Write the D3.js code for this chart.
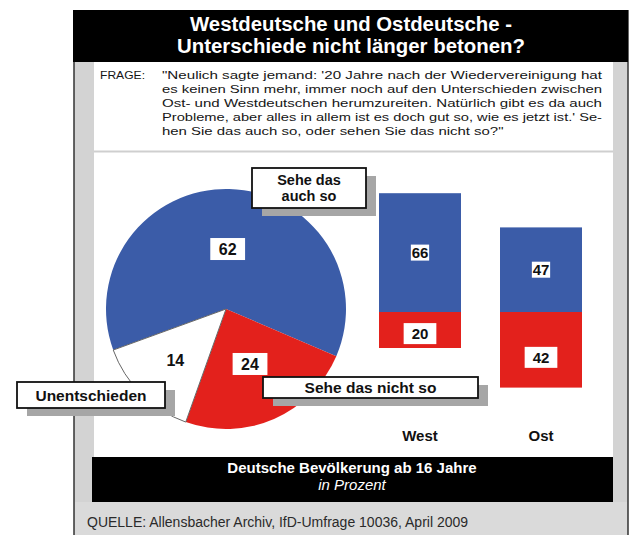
<!DOCTYPE html>
<html><head><meta charset="utf-8">
<script src="https://cdn.jsdelivr.net/npm/d3@7"></script>
<style>
body{margin:0;background:#fff}
svg{display:block}
text{font-family:"Liberation Sans",Arial,Helvetica,sans-serif}
</style>
</head><body>
<svg id="c" width="634" height="535"></svg>
<script>
// ---------- data ----------
const titleLines = ["Westdeutsche und Ostdeutsche -", "Unterschiede nicht länger betonen?"];
const questionLabel = "FRAGE:";
const questionLines = [
  "\"Neulich sagte jemand: '20 Jahre nach der Wiedervereinigung hat",
  "es keinen Sinn mehr, immer noch auf den Unterschieden zwischen",
  "Ost- und Westdeutschen herumzureiten. Natürlich gibt es da auch",
  "Probleme, aber alles in allem ist es doch gut so, wie es jetzt ist.' Se-",
  "hen Sie das auch so, oder sehen Sie das nicht so?\""
];
const pieCategories = ["Sehe das auch so", "Sehe das nicht so", "Unentschieden"];
const pieValues = [62, 24, 14];
const barCategories = ["West", "Ost"];
const auchSoValues = [66, 47];
const nichtSoValues = [20, 42];
const footerLines = ["Deutsche Bevölkerung ab 16 Jahre", "in Prozent"];
const sourceText = "QUELLE: Allensbacher Archiv, IfD-Umfrage 10036, April 2009";

// ---------- styles ----------
const BLUE = "#3b5ca8", RED = "#e3211c", GREY = "#d3d3d3";
const pieColors = [BLUE, RED, "#ffffff"];

const svg = d3.select("#c");

// ---------- frame ----------
svg.append("rect").attr("x", 74).attr("y", 40).attr("width", 554).attr("height", 495).attr("fill", GREY);
svg.append("line").attr("x1", 74).attr("x2", 74).attr("y1", 10).attr("y2", 535).attr("stroke", "#333").attr("stroke-width", 1.5);
svg.append("line").attr("x1", 628).attr("x2", 628).attr("y1", 10).attr("y2", 535).attr("stroke", "#333").attr("stroke-width", 1.5);
svg.append("rect").attr("x", 94).attr("y", 62).attr("width", 519).attr("height", 395).attr("fill", "#fff");
svg.append("rect").attr("x", 94).attr("y", 150.5).attr("width", 519).attr("height", 2).attr("fill", "#cfcfcf");
svg.append("rect").attr("x", 75).attr("y", 502).attr("width", 552).attr("height", 33).attr("fill", "#dadada");

// title
svg.append("rect").attr("x", 73).attr("y", 10).attr("width", 555).attr("height", 52).attr("fill", "#000");
const titleW = [322, 348];
svg.selectAll("text.title").data(titleLines).join("text").attr("class", "title")
  .attr("x", 351).attr("y", (d, i) => 31 + i * 21.5)
  .attr("text-anchor", "middle").attr("fill", "#fff")
  .attr("font-size", 19.5).attr("font-weight", "bold")
  .attr("textLength", (d, i) => titleW[i]).attr("lengthAdjust", "spacingAndGlyphs")
  .text(d => d);

// question
const qFs = 11.5, qTop = 79, qLh = 13.9;
svg.append("text").attr("x", 100).attr("y", qTop).attr("font-size", qFs).attr("fill", "#161616")
  .attr("textLength", 45).attr("lengthAdjust", "spacingAndGlyphs").text(questionLabel);
const qSel = svg.selectAll("text.q").data(questionLines).join("text").attr("class", "q")
  .attr("x", 162).attr("y", (d, i) => qTop + i * qLh)
  .attr("font-size", qFs).attr("fill", "#161616").text(d => d);
let factors = [];
qSel.each(function (d, i) {
  const w = this.getComputedTextLength();
  if (i < questionLines.length - 1) {
    factors.push(440 / w);
    d3.select(this).attr("textLength", 440).attr("lengthAdjust", "spacingAndGlyphs");
  }
});
const avgF = d3.mean(factors);
qSel.filter((d, i) => i === questionLines.length - 1).each(function () {
  const w = this.getComputedTextLength();
  d3.select(this).attr("textLength", w * avgF).attr("lengthAdjust", "spacingAndGlyphs");
});

// ---------- value label helper ----------
function valueLabel(g, x, y, txt, fs, padX, h, box) {
  const t = g.append("text").attr("x", x).attr("y", y + fs * 0.716 / 2)
    .attr("text-anchor", "middle").attr("font-size", fs).attr("font-weight", "bold")
    .attr("fill", "#111").text(txt);
  const tw = t.node().getComputedTextLength();
  if (box) {
    g.insert("rect", () => t.node())
      .attr("x", x - tw / 2 - padX).attr("y", y - h / 2)
      .attr("width", tw + 2 * padX).attr("height", h).attr("fill", "#fff");
  }
}

// ---------- pie ----------
const cx = 226, cy = 309, R = 120;
const pie = d3.pie().sort(null)
  .startAngle(-110 * Math.PI / 180).endAngle(250 * Math.PI / 180);
const arcs = pie(pieValues);
const arc = d3.arc().innerRadius(0).outerRadius(R);
const gp = svg.append("g").attr("transform", `translate(${cx},${cy})`);
gp.selectAll("path").data(arcs).join("path")
  .attr("d", arc).attr("fill", (d, i) => pieColors[i])
  .attr("stroke", (d, i) => i === 2 ? "#666" : "none").attr("stroke-width", 1);
const gpl = gp.append("g");
arcs.forEach((a, i) => {
  const lr = R * (i === 2 ? 0.6 : 0.5);
  const [lx, ly] = d3.arc().innerRadius(lr).outerRadius(lr).centroid(a);
  valueLabel(gpl, lx, ly, String(pieValues[i]), 16, 8.5, 22, i !== 2);
});

// ---------- bars ----------
const x = d3.scaleBand().domain(barCategories).range([379, 582]).paddingInner(0.3223).paddingOuter(0);
const y = d3.scaleLinear().domain([-100, 100]).range([492, 132]);
const gb = svg.append("g");
gb.selectAll("rect.a").data(barCategories).join("rect").attr("class", "a")
  .attr("x", d => x(d)).attr("width", x.bandwidth())
  .attr("y", (d, i) => y(auchSoValues[i])).attr("height", (d, i) => y(0) - y(auchSoValues[i]))
  .attr("fill", BLUE);
gb.selectAll("rect.n").data(barCategories).join("rect").attr("class", "n")
  .attr("x", d => x(d)).attr("width", x.bandwidth())
  .attr("y", y(0)).attr("height", (d, i) => y(-nichtSoValues[i]) - y(0))
  .attr("fill", RED);
barCategories.forEach((c, i) => {
  const mx = x(c) + x.bandwidth() / 2;
  valueLabel(gb, mx, (y(auchSoValues[i]) + y(0)) / 2, String(auchSoValues[i]), 15, 0.8, 16, true);
  valueLabel(gb, mx, y(0) + 0.6 * (y(-nichtSoValues[i]) - y(0)), String(nichtSoValues[i]), 15, 8, 21, true);
});
gb.selectAll("text.cat").data(barCategories).join("text").attr("class", "cat")
  .attr("x", d => x(d) + x.bandwidth() / 2).attr("y", 441)
  .attr("text-anchor", "middle").attr("font-size", 15).attr("font-weight", "bold").attr("fill", "#111")
  .text(d => d);

// ---------- callouts ----------
const callouts = [
  { cat: pieCategories[0], lines: ["Sehe das", "auch so"], x: 252, y: 168, w: 114, h: 40 },
  { cat: pieCategories[1], lines: ["Sehe das nicht so"], x: 263, y: 377, w: 215, h: 21 },
  { cat: pieCategories[2], lines: ["Unentschieden"], x: 17, y: 382, w: 148, h: 26 }
];
const gc = svg.append("g");
callouts.forEach(c => {
  gc.append("rect").attr("x", c.x + 10).attr("y", c.y + 8).attr("width", c.w).attr("height", c.h).attr("fill", "#a6a6a6");
  gc.append("rect").attr("x", c.x).attr("y", c.y).attr("width", c.w).attr("height", c.h)
    .attr("fill", "#fff").attr("stroke", "#111").attr("stroke-width", 1.8);
  const fs = c.lines.length > 1 ? 14.5 : 15.5, lh = 16.5;
  const n = c.lines.length;
  const top = c.y + c.h / 2 - ((n - 1) * lh) / 2 + fs * 0.716 / 2;
  c.lines.forEach((l, k) => {
    gc.append("text").attr("x", c.x + c.w / 2).attr("y", top + k * lh)
      .attr("text-anchor", "middle").attr("font-size", fs).attr("font-weight", "bold").attr("fill", "#111")
      .text(l);
  });
});

// ---------- footer ----------
svg.append("rect").attr("x", 92).attr("y", 457).attr("width", 521).attr("height", 45).attr("fill", "#000");
svg.append("text").attr("x", 352).attr("y", 472.5).attr("text-anchor", "middle")
  .attr("font-size", 15).attr("font-weight", "bold").attr("fill", "#fff").text(footerLines[0]);
svg.append("text").attr("x", 352).attr("y", 490).attr("text-anchor", "middle")
  .attr("font-size", 15).attr("font-style", "italic").attr("fill", "#fff").text(footerLines[1]);
svg.append("text").attr("x", 87).attr("y", 527).attr("font-size", 14).attr("fill", "#2a2a2a").text(sourceText);
</script>
</body></html>
